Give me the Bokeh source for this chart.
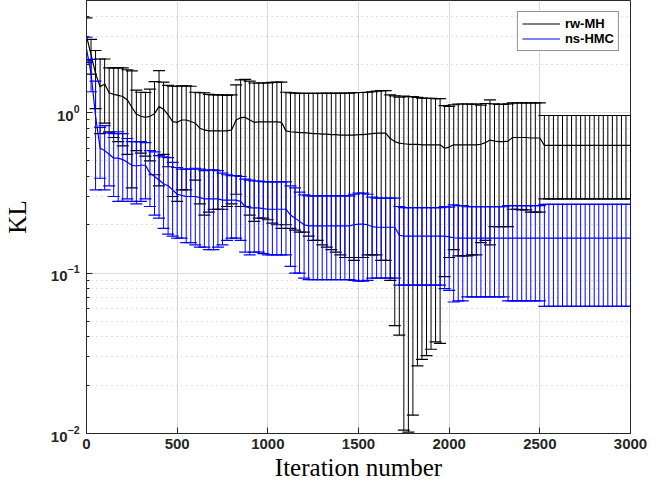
from bokeh.plotting import figure
from bokeh.models import (Legend, LegendItem, Range1d,
                          SingleIntervalTicker, ColumnDataSource)
from bokeh.embed import file_html
from bokeh.resources import INLINE

iters = list(range(0, 3001, 25))

rw_mean = [3.0, 2.3, 1.75, 1.45, 1.51, 1.33, 1.30, 1.28, 1.26, 1.20,
           1.08, 0.98, 0.95, 0.935, 0.95, 0.985, 1.09, 1.05, 0.97, 0.88,
           0.87, 0.90, 0.90, 0.88, 0.86, 0.80, 0.78, 0.77, 0.77, 0.77,
           0.77, 0.77, 0.78, 0.90, 0.93, 0.935, 0.90, 0.87, 0.875, 0.875,
           0.875, 0.875, 0.875, 0.87, 0.77, 0.76, 0.755, 0.75, 0.75, 0.745,
           0.74, 0.74, 0.735, 0.735, 0.73, 0.73, 0.725, 0.725, 0.725, 0.725,
           0.73, 0.73, 0.735, 0.74, 0.745, 0.745, 0.745, 0.69, 0.66, 0.645,
           0.64, 0.635, 0.635, 0.635, 0.63, 0.63, 0.63, 0.63, 0.63, 0.60,
           0.61, 0.63, 0.63, 0.63, 0.63, 0.63, 0.63, 0.635, 0.65, 0.675,
           0.665, 0.66, 0.66, 0.665, 0.70, 0.70, 0.70, 0.70, 0.695, 0.695,
           0.695, 0.625, 0.625, 0.625, 0.625, 0.625, 0.625, 0.625, 0.625, 0.625,
           0.625, 0.625, 0.625, 0.625, 0.625, 0.625, 0.625, 0.625, 0.625, 0.625,
           0.625]
rw_std = [0.9, 0.56, 0.69, 0.71, 0.65, 0.57, 0.60, 0.62, 0.64, 0.65,
          0.74, 0.40, 0.39, 0.40, 0.45, 0.575, 0.74, 0.50, 0.51, 0.58,
          0.59, 0.57, 0.57, 0.58, 0.48, 0.53, 0.55, 0.53, 0.52, 0.52,
          0.52, 0.51, 0.51, 0.59, 0.67, 0.675, 0.67, 0.66, 0.655, 0.655,
          0.66, 0.67, 0.675, 0.68, 0.57, 0.57, 0.57, 0.57, 0.57, 0.575,
          0.58, 0.58, 0.585, 0.59, 0.59, 0.595, 0.595, 0.60, 0.60, 0.605,
          0.605, 0.605, 0.605, 0.61, 0.615, 0.625, 0.625, 0.60, 0.613, 0.604,
          0.6295, 0.6248, 0.622, 0.6086, 0.601, 0.5994, 0.5965, 0.5928, 0.5935, 0.505,
          0.485, 0.49, 0.502, 0.502, 0.502, 0.50, 0.50, 0.48, 0.49, 0.525,
          0.47, 0.465, 0.465, 0.47, 0.45, 0.45, 0.452, 0.452, 0.455, 0.455,
          0.455, 0.335, 0.335, 0.335, 0.335, 0.335, 0.335, 0.335, 0.335, 0.335,
          0.335, 0.335, 0.335, 0.335, 0.335, 0.335, 0.335, 0.335, 0.335, 0.335,
          0.335]

ns_mean = [2.5, 1.75, 0.95, 0.60, 0.58, 0.55, 0.52, 0.52, 0.51, 0.49,
           0.47, 0.465, 0.47, 0.47, 0.42, 0.40, 0.38, 0.36, 0.35, 0.33,
           0.31, 0.305, 0.30, 0.30, 0.30, 0.295, 0.29, 0.29, 0.29, 0.29,
           0.285, 0.285, 0.285, 0.285, 0.28, 0.26, 0.255, 0.255, 0.255, 0.252,
           0.25, 0.25, 0.25, 0.25, 0.25, 0.23, 0.22, 0.21, 0.20, 0.197,
           0.197, 0.197, 0.197, 0.197, 0.197, 0.197, 0.197, 0.197, 0.197, 0.20,
           0.202, 0.202, 0.20, 0.195, 0.193, 0.193, 0.193, 0.193, 0.193, 0.172,
           0.17, 0.17, 0.17, 0.17, 0.17, 0.17, 0.17, 0.17, 0.17, 0.17,
           0.168, 0.166, 0.165, 0.165, 0.165, 0.165, 0.165, 0.165, 0.165, 0.165,
           0.165, 0.165, 0.165, 0.165, 0.165, 0.165, 0.165, 0.165, 0.165, 0.165,
           0.165, 0.165, 0.165, 0.165, 0.165, 0.165, 0.165, 0.165, 0.165, 0.165,
           0.165, 0.165, 0.165, 0.165, 0.165, 0.165, 0.165, 0.165, 0.165, 0.165,
           0.165]
ns_std = [0.45, 0.40, 0.62, 0.21, 0.25, 0.20, 0.22, 0.24, 0.23, 0.20,
          0.19, 0.195, 0.19, 0.18, 0.16, 0.17, 0.16, 0.17, 0.175, 0.16,
          0.145, 0.14, 0.145, 0.145, 0.15, 0.15, 0.145, 0.15, 0.15, 0.145,
          0.135, 0.125, 0.12, 0.12, 0.12, 0.125, 0.125, 0.12, 0.12, 0.12,
          0.12, 0.12, 0.12, 0.12, 0.12, 0.12, 0.12, 0.11, 0.107, 0.106,
          0.106, 0.106, 0.106, 0.106, 0.106, 0.106, 0.106, 0.106, 0.106, 0.11,
          0.113, 0.113, 0.11, 0.102, 0.10, 0.10, 0.10, 0.10, 0.10, 0.088,
          0.086, 0.086, 0.086, 0.086, 0.086, 0.086, 0.086, 0.086, 0.086, 0.09,
          0.09, 0.10, 0.098, 0.098, 0.094, 0.094, 0.094, 0.094, 0.094, 0.094,
          0.094, 0.094, 0.094, 0.098, 0.098, 0.098, 0.098, 0.098, 0.098, 0.098,
          0.098, 0.103, 0.103, 0.103, 0.103, 0.103, 0.103, 0.103, 0.103, 0.103,
          0.103, 0.103, 0.103, 0.103, 0.103, 0.103, 0.103, 0.103, 0.103, 0.103,
          0.103]

series_names = ["rw-MH", "ns-HMC"]
series_colors = ["#000000", "#0000ff"]

p = figure(width=647, height=483, y_axis_type="log",
           x_range=Range1d(0, 3000), y_range=Range1d(0.01, 5),
           output_backend="svg", toolbar_location=None,
           min_border_left=85, min_border_right=17, min_border_top=0,
           min_border_bottom=50)
p.background_fill_color = "white"
p.border_fill_color = "white"
p.outline_line_color = "#262626"
p.outline_line_width = 1

renderers = []
for mean, std, color in [(rw_mean, rw_std, series_colors[0]),
                         (ns_mean, ns_std, series_colors[1])]:
    lo = [m - s for m, s in zip(mean, std)]
    hi = [m + s for m, s in zip(mean, std)]
    src = ColumnDataSource(dict(x=iters, m=mean, lo=lo, hi=hi))
    p.segment(x0="x", y0="lo", x1="x", y1="hi", source=src,
              line_color=color, line_width=1)
    p.scatter(x="x", y="lo", marker="dash", size=12, source=src,
              line_color=color, line_width=1.2)
    p.scatter(x="x", y="hi", marker="dash", size=12, source=src,
              line_color=color, line_width=1.2)
    r = p.line(x="x", y="m", source=src, line_color=color, line_width=1.2)
    renderers.append(r)

# axes
tick_font = "Liberation Sans"
for ax in [p.xaxis[0], p.yaxis[0]]:
    ax.axis_line_color = "#262626"
    ax.major_tick_line_color = "#262626"
    ax.minor_tick_line_color = "#262626"
    ax.major_tick_in = 6
    ax.major_tick_out = 0
    ax.minor_tick_in = 3
    ax.minor_tick_out = 0
    ax.major_label_text_font = tick_font
    ax.major_label_text_font_style = "bold"
    ax.major_label_text_font_size = "15px"
    ax.major_label_text_color = "#262626"
    ax.axis_label_text_font = "Liberation Serif"
    ax.axis_label_text_font_style = "normal"
    ax.axis_label_text_font_size = "25px"
    ax.axis_label_text_color = "black"

p.xaxis[0].ticker = SingleIntervalTicker(interval=500, num_minor_ticks=0)
p.xaxis[0].minor_tick_line_color = None
p.xaxis[0].axis_label = "Iteration number"
p.xaxis[0].major_label_standoff = 5
p.xaxis[0].axis_label_standoff = 2
p.yaxis[0].axis_label = "KL"
p.yaxis[0].major_label_standoff = 7
p.yaxis[0].axis_label_standoff = 17

# grids
p.xgrid.ticker = SingleIntervalTicker(interval=500, num_minor_ticks=0)
p.xgrid.grid_line_color = "#dcdcdc"
p.ygrid.grid_line_color = "#dcdcdc"
p.ygrid.minor_grid_line_color = "#c4c4c4"
p.ygrid.minor_grid_line_dash = "1 4"

legend = Legend(items=[LegendItem(label=series_names[0], renderers=[renderers[0]]),
                       LegendItem(label=series_names[1], renderers=[renderers[1]])],
                location="top_right")
legend.margin = 11
legend.padding = 4
legend.spacing = 0
legend.glyph_width = 38
legend.glyph_height = 13
legend.label_height = 13
legend.label_standoff = 5
legend.label_text_font = tick_font
legend.label_text_font_style = "bold"
legend.label_text_font_size = "13px"
legend.label_text_color = "black"
legend.border_line_color = "#262626"
legend.border_line_width = 1
legend.background_fill_color = "white"
legend.background_fill_alpha = 1
p.add_layout(legend)

open("out.html", "w").write(file_html(p, INLINE))
